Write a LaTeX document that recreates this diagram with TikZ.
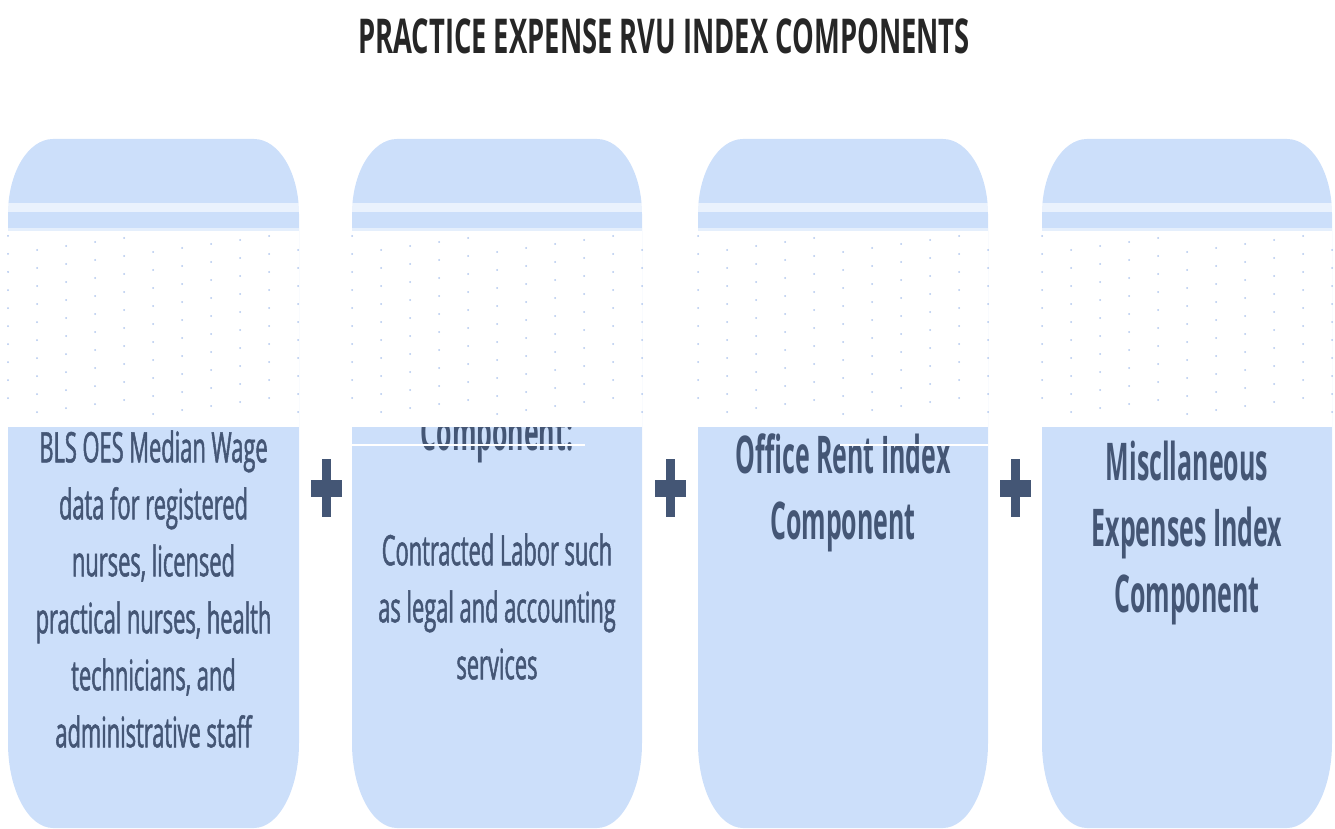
\documentclass[tikz,border=0pt]{standalone}
\usepackage{fontspec}
\setmainfont{Open Sans}
\newfontfamily\bodyf[FakeStretch=0.52,FakeBold=1.2]{Open Sans}
\newfontfamily\headf[FakeStretch=0.48]{Open Sans}
\newfontfamily\titlef[FakeStretch=0.57]{Open Sans}
\definecolor{boxblue}{RGB}{204,223,250}
\definecolor{txtc}{RGB}{68,86,117}
\definecolor{titlec}{RGB}{38,38,38}
\definecolor{dotc}{RGB}{176,198,238}
\tikzset{
  boxfill/.style={fill=boxblue},
  bodytext/.style={font=\bodyf\fontsize{21}{28.5}\selectfont, text=txtc, align=center, inner sep=0pt, anchor=north},
  headtext/.style={font=\headf\bfseries\fontsize{26}{33}\selectfont, text=txtc, align=center, inner sep=0pt, anchor=north},
  titletext/.style={font=\titlef\bfseries\fontsize{24}{28}\selectfont, text=titlec, inner sep=0pt, anchor=base},
  band/.style={fill=white},
  plusc/.style={fill=txtc},
}
\begin{document}
\begin{tikzpicture}[x=0.5pt,y=-0.5pt]
\useasboundingbox (0,0) rectangle (1335,829);
% title
\node[titletext] (title) at (664,54) {PRACTICE EXPENSE RVU INDEX COMPONENTS};
% boxes
\foreach \L/\R in {8/299,352/642,698/988,1042/1332}{
  \fill[boxfill] (\L,214) .. controls (\L,172.6) and (\L+20.2,139) .. (\L+45,139)
    -- (\R-45,139) .. controls (\R-20.2,139) and (\R,172.6) .. (\R,214)
    -- (\R,743) .. controls (\R,789.9) and (\R-20.2,828) .. (\R-45,828)
    -- (\L+45,828) .. controls (\L+20.2,828) and (\L,789.9) .. (\L,743) -- cycle;
}
% texts
\node[bodytext] (t1) at (153.5,430) {BLS OES Median Wage\\data for registered\\nurses, licensed\\practical nurses, health\\technicians, and\\administrative staff};
\node[headtext] (h2) at (497,412) {Component:};
\node[bodytext] (t2) at (497,533) {Contracted Labor such\\as legal and accounting\\services};
\node[headtext] (h3) at (843,433) {Office Rent Index\\Component};
\node[headtext] (h4) at (1187,441) {Miscllaneous\\Expenses Index\\Component};
% glitch band
\foreach \L/\R in {8/299,352/642,698/988,1042/1332}{
  \fill[band] (\L,231) rectangle (\R,427);
  \fill[white,opacity=0.6] (\L,203) rectangle (\R,212);
  \fill[white,opacity=0.5] (\L,228) rectangle (\R,231);
  \foreach \i in {0,...,10}{
    \foreach \j in {0,...,9}{
      \pgfmathsetmacro{\yy}{236+18*\j+mod(14*\i,18)}
      \fill[dotc] (\L+29*\i,\yy) circle[radius=0.5pt];
    }
  }
}
\fill[white] (352,444) rectangle (585,446);
\fill[white] (840,444) rectangle (988,446);
% plus signs
\foreach \cx in {326.5,670,1015}{
  \fill[plusc] (\cx-15.5,479.5) rectangle (\cx+15.5,496.5);
  \fill[plusc] (\cx-4.5,459) rectangle (\cx+4.5,517);
}
\end{tikzpicture}
\end{document}
